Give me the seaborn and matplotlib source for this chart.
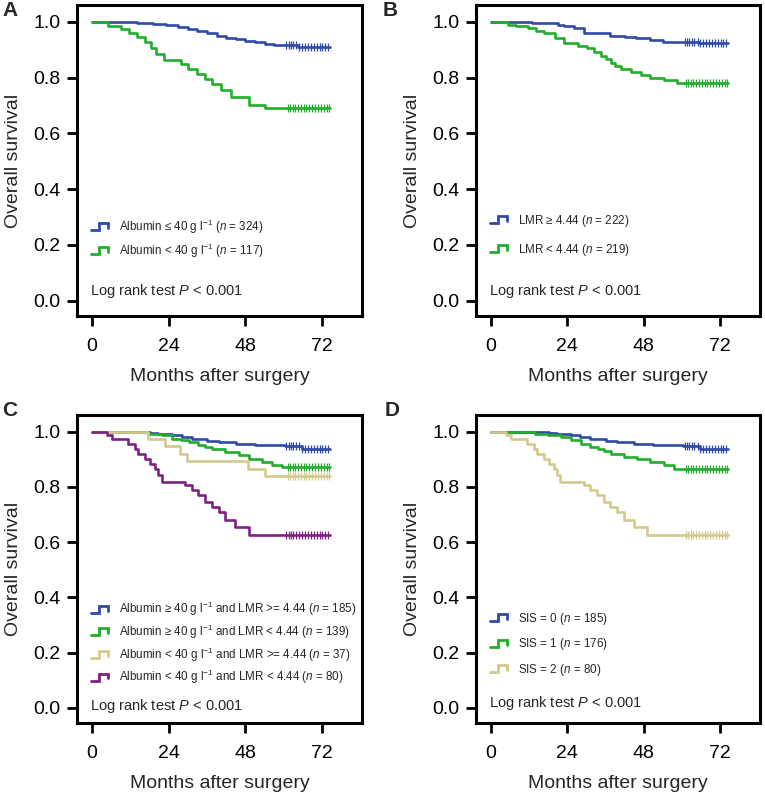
import numpy as np
import matplotlib
matplotlib.use("Agg")
import matplotlib.pyplot as plt
import seaborn as sns
from matplotlib.lines import Line2D
from matplotlib.legend_handler import HandlerBase

# ---- survival curves (months, survival) ----
alb_high_t = [0, 8, 14, 19, 23, 27, 30, 33, 36, 39, 42, 45, 48, 51, 54, 57, 64.5, 74.5]
alb_high_s = [1.0, 0.998, 0.995, 0.992, 0.988, 0.982, 0.975, 0.967, 0.958, 0.949, 0.942, 0.937, 0.931, 0.926, 0.921, 0.915, 0.909, 0.909]
alb_low_t = [0, 5, 9, 11.5, 14, 16.5, 18.5, 20, 22.5, 28, 30, 33, 35.5, 37.5, 40.5, 43.5, 49, 54, 74.5]
alb_low_s = [1.0, 0.983, 0.975, 0.958, 0.945, 0.928, 0.905, 0.885, 0.862, 0.848, 0.83, 0.812, 0.793, 0.775, 0.755, 0.73, 0.7, 0.692, 0.692]

lmr_high_t = [0, 13, 17.3, 21, 23, 26, 29.2, 37.5, 42, 45.7, 50, 54, 65.4, 74.3]
lmr_high_s = [1.0, 0.997, 0.994, 0.99, 0.986, 0.977, 0.958, 0.95, 0.945, 0.94, 0.935, 0.929, 0.922, 0.922]
lmr_low_t = [0, 5.3, 8, 11.6, 14, 16.8, 20, 23, 27.2, 30.3, 32.4, 34.5, 36, 37.6, 39, 40.7, 43.9, 47, 50.1, 54.2, 58.4, 74.3]
lmr_low_s = [1.0, 0.99, 0.984, 0.976, 0.968, 0.958, 0.942, 0.923, 0.913, 0.905, 0.892, 0.877, 0.865, 0.853, 0.843, 0.832, 0.821, 0.809, 0.797, 0.79, 0.782, 0.782]

hh_t = [0, 18.2, 20.8, 25, 28.1, 31.2, 36, 39.6, 45, 51, 60.4, 65.7, 74.5]
hh_s = [1.0, 0.996, 0.992, 0.986, 0.98, 0.972, 0.967, 0.962, 0.956, 0.95, 0.946, 0.938, 0.938]
hl_t = [0, 17.6, 21.8, 25, 28, 30.2, 33.3, 35.5, 37.5, 41.7, 45.9, 49, 53.1, 56.3, 59.4, 74.5]
hl_s = [1.0, 0.992, 0.986, 0.974, 0.968, 0.962, 0.95, 0.944, 0.938, 0.926, 0.914, 0.902, 0.89, 0.879, 0.872, 0.872]
lh_t = [0, 17.6, 22.9, 27.5, 29.6, 48.9, 54.2, 74.5]
lh_s = [1.0, 0.973, 0.946, 0.919, 0.892, 0.865, 0.838, 0.838]
ll_t = [0, 4.6, 6.2, 11.4, 13.5, 14.5, 16.6, 18.2, 19.7, 20.8, 21.8, 29.1, 31.2, 33.3, 35.4, 37.5, 39.6, 41.7, 44.8, 49, 74.5]
ll_s = [1.0, 0.986, 0.974, 0.956, 0.938, 0.92, 0.902, 0.884, 0.866, 0.842, 0.818, 0.806, 0.788, 0.77, 0.746, 0.728, 0.71, 0.68, 0.656, 0.626, 0.626]

sis1_t = [0, 13.7, 17.9, 22, 25.2, 28.3, 31, 33.5, 35.5, 37.6, 41.8, 45.9, 50.1, 54.2, 57.4, 74.5]
sis1_s = [1.0, 0.993, 0.986, 0.98, 0.968, 0.955, 0.945, 0.938, 0.928, 0.92, 0.908, 0.9, 0.89, 0.878, 0.866, 0.866]

# censoring times (months)
cens_1 = [60.8, 61.6, 62.3, 63.0, 63.7, 64.9, 65.8, 66.7, 67.6, 68.5, 69.4, 70.3, 71.2, 72.1, 73.0, 73.9]
cens_2 = [61.2, 62.0, 62.8, 63.6, 64.4, 65.3, 66.2, 67.1, 68.0, 68.9, 69.8, 70.7, 71.6, 72.5, 73.4, 74.2]

# ---- panel definitions ----
blue, green, tan, purple = "#2f4aa8", "#22ad2c", "#d3c98c", "#7d2283"

# letter, curves, legend labels, legend anchor y, legend row spacing, log-rank y
panels = [
    ("A", [(alb_high_t, alb_high_s, cens_1, blue),
           (alb_low_t, alb_low_s, cens_2, green)],
     ["Albumin ≤ 40 g l$^{-1}$ ($n$ = 324)",
      "Albumin < 40 g l$^{-1}$ ($n$ = 117)"], 0.174, 0.50, 0.080),
    ("B", [(lmr_high_t, lmr_high_s, cens_1, blue),
           (lmr_low_t, lmr_low_s, cens_2, green)],
     ["LMR ≥ 4.44 ($n$ = 222)",
      "LMR < 4.44 ($n$ = 219)"], 0.179, 1.15, 0.080),
    ("C", [(hh_t, hh_s, cens_1, blue),
           (hl_t, hl_s, cens_2, green),
           (lh_t, lh_s, cens_2, tan),
           (ll_t, ll_s, cens_1, purple)],
     ["Albumin ≥ 40 g l$^{-1}$ and LMR >= 4.44 ($n$ = 185)",
      "Albumin ≥ 40 g l$^{-1}$ and LMR < 4.44 ($n$ = 139)",
      "Albumin < 40 g l$^{-1}$ and LMR >= 4.44 ($n$ = 37)",
      "Albumin < 40 g l$^{-1}$ and LMR < 4.44 ($n$ = 80)"], 0.112, 0.38, 0.055),
    ("D", [(hh_t, hh_s, cens_1, blue),
           (sis1_t, sis1_s, cens_2, green),
           (ll_t, ll_s, cens_2, tan)],
     ["SIS = 0 ($n$ = 185)",
      "SIS = 1 ($n$ = 176)",
      "SIS = 2 ($n$ = 80)"], 0.139, 0.82, 0.064),
]

# axes boxes in pixels (left, top, right, bottom) for a 765x794 canvas
boxes = [(77, 5, 362, 316), (476, 5, 760, 316), (77, 415, 362, 723), (476, 415, 760, 723)]
letters_xy = [(2, 10), (383, 10), (2, 411), (385, 411)]


class StepHandler(HandlerBase):
    """Legend key drawn as a small step symbol."""
    def create_artists(self, legend, orig_handle, xdescent, ydescent,
                       width, height, fontsize, trans):
        fx = [0.0, 0.45, 0.45, 0.95, 0.95]
        fy = [0.0, 0.0, 1.0, 1.0, 0.3]
        line = Line2D([-xdescent + f * width for f in fx],
                      [-ydescent + f * height for f in fy],
                      color=orig_handle.get_color(), lw=2.0,
                      solid_joinstyle="miter", transform=trans)
        return [line]


def surv_at(t, s, c):
    idx = np.searchsorted(t, c, side="right") - 1
    return np.asarray(s)[idx]


sns.set_style("ticks")
plt.rcParams["font.family"] = ["Liberation Sans", "DejaVu Sans"]
plt.rcParams["mathtext.fontset"] = "custom"
plt.rcParams["mathtext.rm"] = "Liberation Sans"
plt.rcParams["mathtext.it"] = "Liberation Sans:italic"
plt.rcParams["mathtext.bf"] = "Liberation Sans:bold"

W, H = 765, 794
fig = plt.figure(figsize=(W / 100, H / 100), dpi=100)

for (letter, curves, labels, leg_y, leg_sp, lr_y), (l, t, r, b), (lx, ly) in zip(panels, boxes, letters_xy):
    ax = fig.add_axes([l / W, 1 - b / H, (r - l) / W, (b - t) / H])
    handles = []
    for (ts, ss, cens, col) in curves:
        sns.lineplot(x=ts, y=ss, drawstyle="steps-post", color=col, lw=1.9,
                     errorbar=None, ax=ax)
        cy = surv_at(ts, ss, cens)
        sns.scatterplot(x=cens, y=cy, marker="|", s=30, color=col,
                        linewidth=0.9, ax=ax, zorder=3)
        handles.append(Line2D([], [], color=col, lw=2))

    ax.set_xlim(-4.7, 84.5)
    ax.set_ylim(-0.055, 1.06)
    ax.set_xticks([0, 24, 48, 72])
    ax.set_yticks([0, 0.2, 0.4, 0.6, 0.8, 1.0])
    ax.set_yticklabels([f"{v:.1f}" for v in [0, 0.2, 0.4, 0.6, 0.8, 1.0]])
    ax.tick_params(axis="both", direction="out", length=7, width=2,
                   labelsize=14, colors="black")
    ax.tick_params(axis="x", pad=9)
    ax.tick_params(axis="y", pad=5)
    for sp in ax.spines.values():
        sp.set_visible(True)
        sp.set_linewidth(2.2)
        sp.set_color("black")
    ax.set_xlabel("Months after surgery", fontsize=14, labelpad=9)
    ax.set_ylabel("Overall survival", fontsize=14, labelpad=8)

    ax.legend(handles, labels, handler_map={Line2D: StepHandler()},
              loc="lower left", bbox_to_anchor=(0.04, leg_y),
              frameon=False, fontsize=8.4, handlelength=1.6,
              handleheight=0.55, handletextpad=0.8, labelspacing=leg_sp,
              borderpad=0.2, borderaxespad=0.0)
    ax.text(0.045, lr_y, "Log rank test $P$ < 0.001", transform=ax.transAxes,
            fontsize=10.5, va="center", ha="left")

    fig.text(lx / W, 1 - ly / H, letter, fontsize=15, fontweight="bold",
             va="center", ha="left")

fig.savefig("out.png", dpi=100)
